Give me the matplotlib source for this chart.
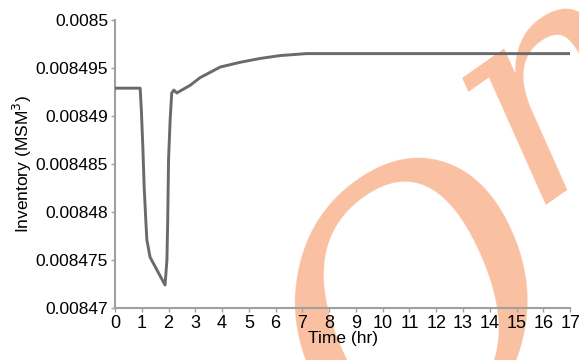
import numpy as np
import matplotlib
matplotlib.use("Agg")
import matplotlib.pyplot as plt

plt.rcParams["font.family"] = ["Liberation Sans", "DejaVu Sans"]

# waktu (jam) dan inventory (MSM^3)
time_hr = [0.0, 0.94, 0.985, 1.04, 1.09, 1.15, 1.19, 1.31, 1.56, 1.87,
           1.94, 1.97, 2.0, 2.06, 2.12, 2.2, 2.31, 2.43, 2.81, 3.18,
           3.93, 4.68, 5.43, 6.18, 7.15, 17.0]
inventory = [0.0084929, 0.0084929, 0.0084906, 0.0084868, 0.0084826,
             0.0084792, 0.0084771, 0.0084753, 0.0084740, 0.0084724,
             0.0084750, 0.0084792, 0.0084854, 0.0084896, 0.0084924,
             0.0084927, 0.0084924, 0.0084926, 0.0084932, 0.0084940,
             0.0084951, 0.0084956, 0.0084960, 0.0084963, 0.0084965,
             0.0084965]
yticks = [0.00847, 0.008475, 0.00848, 0.008485, 0.00849, 0.008495, 0.0085]
ytick_labels = ["0.00847", "0.008475", "0.00848", "0.008485", "0.00849",
                "0.008495", "0.0085"]
xticks = list(range(0, 18))

fig = plt.figure(figsize=(5.79, 3.6), dpi=100)
ax = fig.add_axes([0.1986, 0.1444, 0.786, 0.8])
ax.patch.set_alpha(0)  # supaya watermark di belakang tetap terlihat

ax.plot(time_hr, inventory, color="#6a6a6a", linewidth=2.1, zorder=3)

ax.set_xlim(0, 17)
ax.set_ylim(0.00847, 0.0085)
ax.set_xticks(xticks)
ax.set_xticklabels([str(v) for v in xticks], fontsize=13)
ax.set_yticks(yticks)
ax.set_yticklabels(ytick_labels, fontsize=12.5)
ax.set_xlabel("Time (hr)", fontsize=12.5, labelpad=-1)
ax.set_ylabel("Inventory (MSM$^3$)", fontsize=12.5, labelpad=1)

for s in ["top", "right"]:
    ax.spines[s].set_visible(False)
for s in ["left", "bottom"]:
    ax.spines[s].set_color("#a0a0a0")
    ax.spines[s].set_linewidth(1.5)
ax.tick_params(colors="#a0a0a0", labelcolor="black", length=3, width=1,
               pad=2)

# watermark oranye (huruf "O" dan "n" terpisah), di belakang grafik
wm = dict(family="DejaVu Serif", style="italic", color="#f7a57a",
          alpha=0.7, ha="center", va="center", zorder=-1)
fig.text(0.736, 0.115, "O", fontsize=250, rotation=35, **wm)
fig.text(0.96, 0.765, "n", fontsize=210, rotation=35, **wm)

fig.savefig("out.png", dpi=100)
